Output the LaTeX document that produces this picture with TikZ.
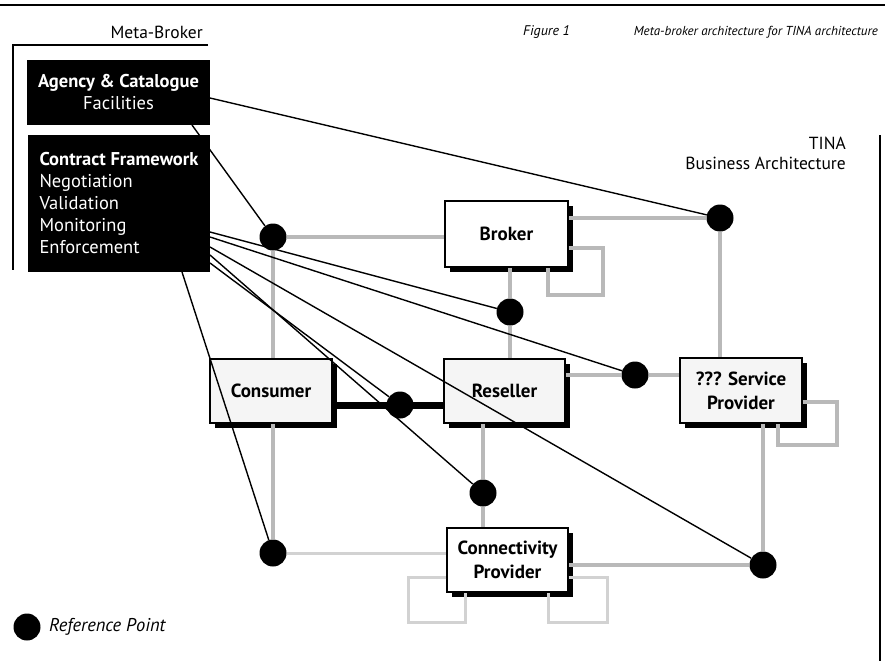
\documentclass[tikz,border=0pt]{standalone}
\usepackage{fontspec}
\setmainfont{PT Sans}
\usetikzlibrary{shadows,calc}
\pgfdeclarelayer{bg}\pgfdeclarelayer{fg}\pgfsetlayers{bg,main,fg}
\begin{document}
\begin{tikzpicture}[x=1pt,y=-1pt,
  box/.style={draw, line width=1.3pt, inner sep=0pt, align=center,
    font=\fontsize{19}{24}\selectfont\bfseries,
    drop shadow={shadow xshift=5pt, shadow yshift=-5pt, fill=black, opacity=1}},
  wbox/.style={box, fill=white},
  gbox/.style={box, fill=gray!8},
  mb/.style={fill=black, text=white, inner sep=0pt, font=\fontsize{18.5}{22}\selectfont},
  refpt/.style={circle, fill=black, minimum size=27pt, inner sep=0pt},
  conn/.style={draw=gray!55, line width=3.5pt},
  connlt/.style={draw=gray!35, line width=3pt},
  link/.style={draw=black, line width=1.4pt},
  lbl/.style={font=\fontsize{17.5}{20}\selectfont, inner sep=0pt}]
\useasboundingbox (0,0) rectangle (885,661);

% frames
\draw[line width=2pt] (0,5) -- (885,5);
\draw[line width=1.2pt] (208,45) -- (13,45) -- (13,270);
\draw[line width=1.5pt] (880,135) -- (880,661);

% labels
\node[lbl, anchor=east] (mbl) at (203,32) {Meta-Broker};
\node[lbl, anchor=east, align=right] (tina) at (846,153) {TINA\\Business Architecture};
\node[anchor=west, inner sep=0pt, font=\fontsize{14}{15}\selectfont\itshape] (fig) at (523,32) {Figure 1};
\node[anchor=east, inner sep=0pt, font=\fontsize{13}{15}\selectfont\itshape] (cap) at (878,32) {Meta-broker architecture for TINA architecture};

% meta-broker boxes
\node[mb, minimum width=183pt, minimum height=65pt, align=center] (ag) at (118.5,92.5)
  {{\bfseries Agency \& Catalogue}\\Facilities};
\node[mb, minimum width=182pt, minimum height=137pt, align=left] (cf) at (119,203.5)
  {{\bfseries Contract Framework}\\Negotiation\\Validation\\Monitoring\\Enforcement};

% business boxes
\node[wbox, minimum width=123pt, minimum height=66pt] (broker) at (506.5,234) {Broker};
\node[gbox, minimum width=122pt, minimum height=64pt] (consumer) at (271,391) {Consumer};
\node[gbox, minimum width=121pt, minimum height=64pt] (reseller) at (504.5,391) {Reseller};
\node[gbox, minimum width=122pt, minimum height=65pt] (sp) at (741,390.5) {??? Service\\Provider};
\node[wbox, minimum width=121pt, minimum height=64pt] (conn) at (507.5,560) {Connectivity\\Provider};

% reference points
\begin{pgfonlayer}{fg}
\node[refpt] (rA) at (273,237) {};
\node[refpt] (rB) at (720,218) {};
\node[refpt] (rC) at (510,312) {};
\node[refpt] (rD) at (400,405) {};
\node[refpt] (rE) at (635,375) {};
\node[refpt] (rF) at (483,493) {};
\node[refpt] (rG) at (273,553) {};
\node[refpt] (rH) at (763,565) {};
\node[refpt] (leg) at (27,627) {};
\end{pgfonlayer}
\node[lbl, anchor=west, font=\fontsize{18.5}{20}\selectfont\itshape] (legt) at (49,627) {Reference Point};

% gray connectors
\draw[conn] (rA) -- (rA -| broker.west);
\draw[conn] (rA) -- (rA |- consumer.north);
\draw[conn] (rB) -- (rB -| broker.east);
\draw[conn] (rB) -- (rB |- sp.north);
\draw[conn] ([yshift=-14pt]broker.east) -- (603,248) -- (603,295) -| ([xshift=41.5pt]broker.south);
\draw[conn] (rC) -- (rC |- broker.south);
\draw[conn] (rC) -- (rC |- reseller.north);
\draw[conn] (rE) -- (rE -| reseller.east);
\draw[conn] (rE) -- (rE -| sp.west);
\draw[conn] ([yshift=-11.5pt]sp.east) -- (837,402) -- (837,445) -| ([xshift=37pt]sp.south);
\draw[conn] (rH) -- (rH |- sp.south);
\draw[conn] (rF) -- (rF |- reseller.south);
\draw[conn] (rF) -- (rF |- conn.north);
\draw[conn] (rG) -- (rG |- consumer.south);
\draw[connlt] (rG) -- (rG -| conn.west);
\draw[conn] (rH) -- (rH -| conn.east);
\draw[connlt] ([yshift=-17pt]conn.east) -- (607,577) -- (607,622) -| ([xshift=40.5pt]conn.south);
\draw[connlt] ([yshift=-17pt]conn.west) -- (408,577) -- (408,622) -| ([xshift=-42.5pt]conn.south);
\draw[line width=7pt] (rD -| consumer.east) -- (rD -| reseller.west);

% black links from meta-broker
\coordinate (a1) at (210,98);
\coordinate (a2) at (192,125);
\coordinate (c1) at (210,232);
\coordinate (c2) at (210,237);
\coordinate (c3) at (210,247);
\coordinate (c4) at (210,255);
\coordinate (c5) at (210,263);
\coordinate (c6) at (182,272);
\begin{pgfonlayer}{bg}
\draw[link] (a2) -- (rA);
\end{pgfonlayer}
\draw[link] (a1) -- (rB);
\draw[link] (c1) -- (rC);
\draw[link] (c2) -- (rE);
\draw[link] (c3) -- (rH);
\draw[link] (c4) -- (rF);
\draw[link] (c5) -- (rD);
\draw[link] (c6) -- (rG);
\end{tikzpicture}
\end{document}
